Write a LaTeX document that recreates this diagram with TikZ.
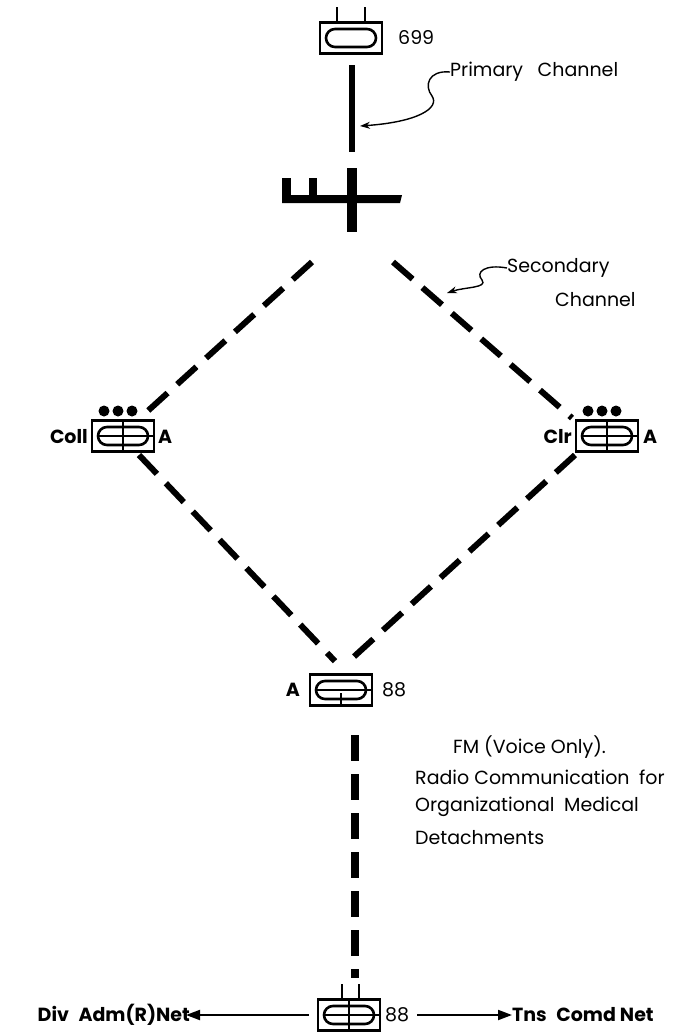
\documentclass[tikz,border=0pt]{standalone}
\usepackage{fontspec}
\setmainfont{Poppins}
\usetikzlibrary{arrows.meta}

\tikzset{
  radio/.style={draw, line width=2.6pt, minimum width=62pt, minimum height=31pt, inner sep=0pt},
  pill/.style={line width=2.6pt, rounded corners=9pt},
  wire/.style={line width=2.4pt},
  bar/.style={fill=black},
  chan/.style={line width=6pt, dash pattern=on 26pt off 13pt},
  trunk/.style={line width=8pt, dash pattern=on 26pt off 13pt},
  net/.style={line width=2pt, -{Triangle[length=14pt,width=10pt]}},
  note/.style={line width=1.4pt, -{Stealth[length=10pt,width=7pt]}},
  lbl/.style={font=\fontsize{19}{23}\selectfont, inner sep=0pt, anchor=west},
  blbl/.style={lbl, font=\fontsize{19}{23}\selectfont\bfseries},
}

\begin{document}
\begin{tikzpicture}[x=1pt,y=-1pt]
  \useasboundingbox (0,0) rectangle (694,1033);
  \node[radio] (r699) at (351,38) {};
  \node[radio] (coll) at (123,436) {};
  \node[radio] (clr) at (607,436) {};
  \node[radio] (a88) at (341,690) {};
  \node[radio] (b88) at (349,1015) {};
  \draw[pill] ([shift={(-25,-9)}]r699.center) rectangle ([shift={(25,9)}]r699.center);
  \draw[pill] ([shift={(-25,-9)}]coll.center) rectangle ([shift={(25,9)}]coll.center);
  \draw[pill] ([shift={(-25,-9)}]clr.center) rectangle ([shift={(25,9)}]clr.center);
  \draw[pill] ([shift={(-25,-9)}]a88.center) rectangle ([shift={(25,9)}]a88.center);
  \draw[pill] ([shift={(-25,-9)}]b88.center) rectangle ([shift={(25,9)}]b88.center);
  \begin{scope}[wire]
    \draw ([xshift=-25pt]coll.center) -- (coll.east);
    \draw (coll.north) -- (coll.south);
    \draw ([xshift=-25pt]clr.center) -- (clr.east);
    \draw (clr.north) -- (clr.south);
    \draw ([xshift=-25pt]a88.center) -- (a88.east);
    \draw ([yshift=-20pt]a88.north) -- (a88.south);
    \draw ([xshift=-25pt]b88.center) -- (b88.east);
    \draw (b88.north) -- (b88.south);
    \draw ([xshift=-14pt]r699.north) -- ++(0,-14);
    \draw ([xshift=14pt]r699.north) -- ++(0,-14);
    \draw ([xshift=-7pt]b88.north) -- ++(0,-14);
    \draw ([xshift=10pt]b88.north) -- ++(0,-14);
  \end{scope}
  \foreach \x in {104,118,132} \fill (\x,411) circle[radius=5.5pt];
  \foreach \x in {588,602,616} \fill (\x,411) circle[radius=5.5pt];
  % switchboard
  \fill[bar] (349,65) rectangle (355,152);
  \fill[bar] (282,178) rectangle (291,203);
  \fill[bar] (309,178) rectangle (317,203);
  \fill[bar] (347,168) rectangle (357,232);
  \fill[bar] (282,195) -- (402,195) -- (400,203) -- (282,203) -- cycle;
  \coordinate (sl) at (312,262);
  \coordinate (sr) at (393,262);
  \coordinate (top) at (a88.north);
  \draw[chan] (sl) -- (140,418);
  \draw[chan] (sr) -- (572,418);
  \draw[chan] (139,455) -- ([shift={(-6,-12)}]top);
  \draw[chan] (575,455) -- ([shift={(8,-12)}]top);
  \draw[trunk] (355,735) -- (355,978);
  \node[lbl] (l699) at (398,38) {699};
  \node[lbl] (lprim) at (450,72) {Primary\enspace\ Channel};
  \node[lbl] (lsec1) at (507,268) {Secondary};
  \node[lbl] (lsec2) at (555,300) {Channel};
  \draw[note] (lprim.west) .. controls (428,70) and (424,86) .. (432,96) .. controls (440,108) and (418,122) .. (360,126);
  \draw[note] (lsec1.west) .. controls (485,264) and (475,272) .. (482,280) .. controls (488,288) and (465,287) .. (447,293);
  \node[blbl, anchor=east] (lcoll) at (88,437) {Coll};
  \node[blbl] (acoll) at (158,437) {A};
  \node[blbl, anchor=east] (lclr) at (572,437) {Clr};
  \node[blbl] (aclr) at (643,437) {A};
  \node[blbl, anchor=east] (aa88) at (300,690) {A};
  \node[lbl] (la88) at (382,690) {88};
  \node[lbl] (fm) at (453,747) {FM (Voice Only).};
  \node[lbl] (t1) at (415,777) {Radio Communication\enspace for};
  \node[lbl] (t2) at (415,807) {Organizational\enspace Medical};
  \node[lbl] (t3) at (415,838) {Detachments};
  \node[lbl] (lb88) at (385,1015) {88};
  \node[blbl, anchor=east] (div) at (190,1015) {Div\enspace Adm(R)Net};
  \node[blbl] (tns) at (512,1015) {Tns\enspace Comd Net};
  \draw[net] ([xshift=-8pt]b88.west) -- ([xshift=-4pt]div.east);
  \draw[net] (lb88.east) ++(8,0) -- (tns.west);
\end{tikzpicture}
\end{document}
